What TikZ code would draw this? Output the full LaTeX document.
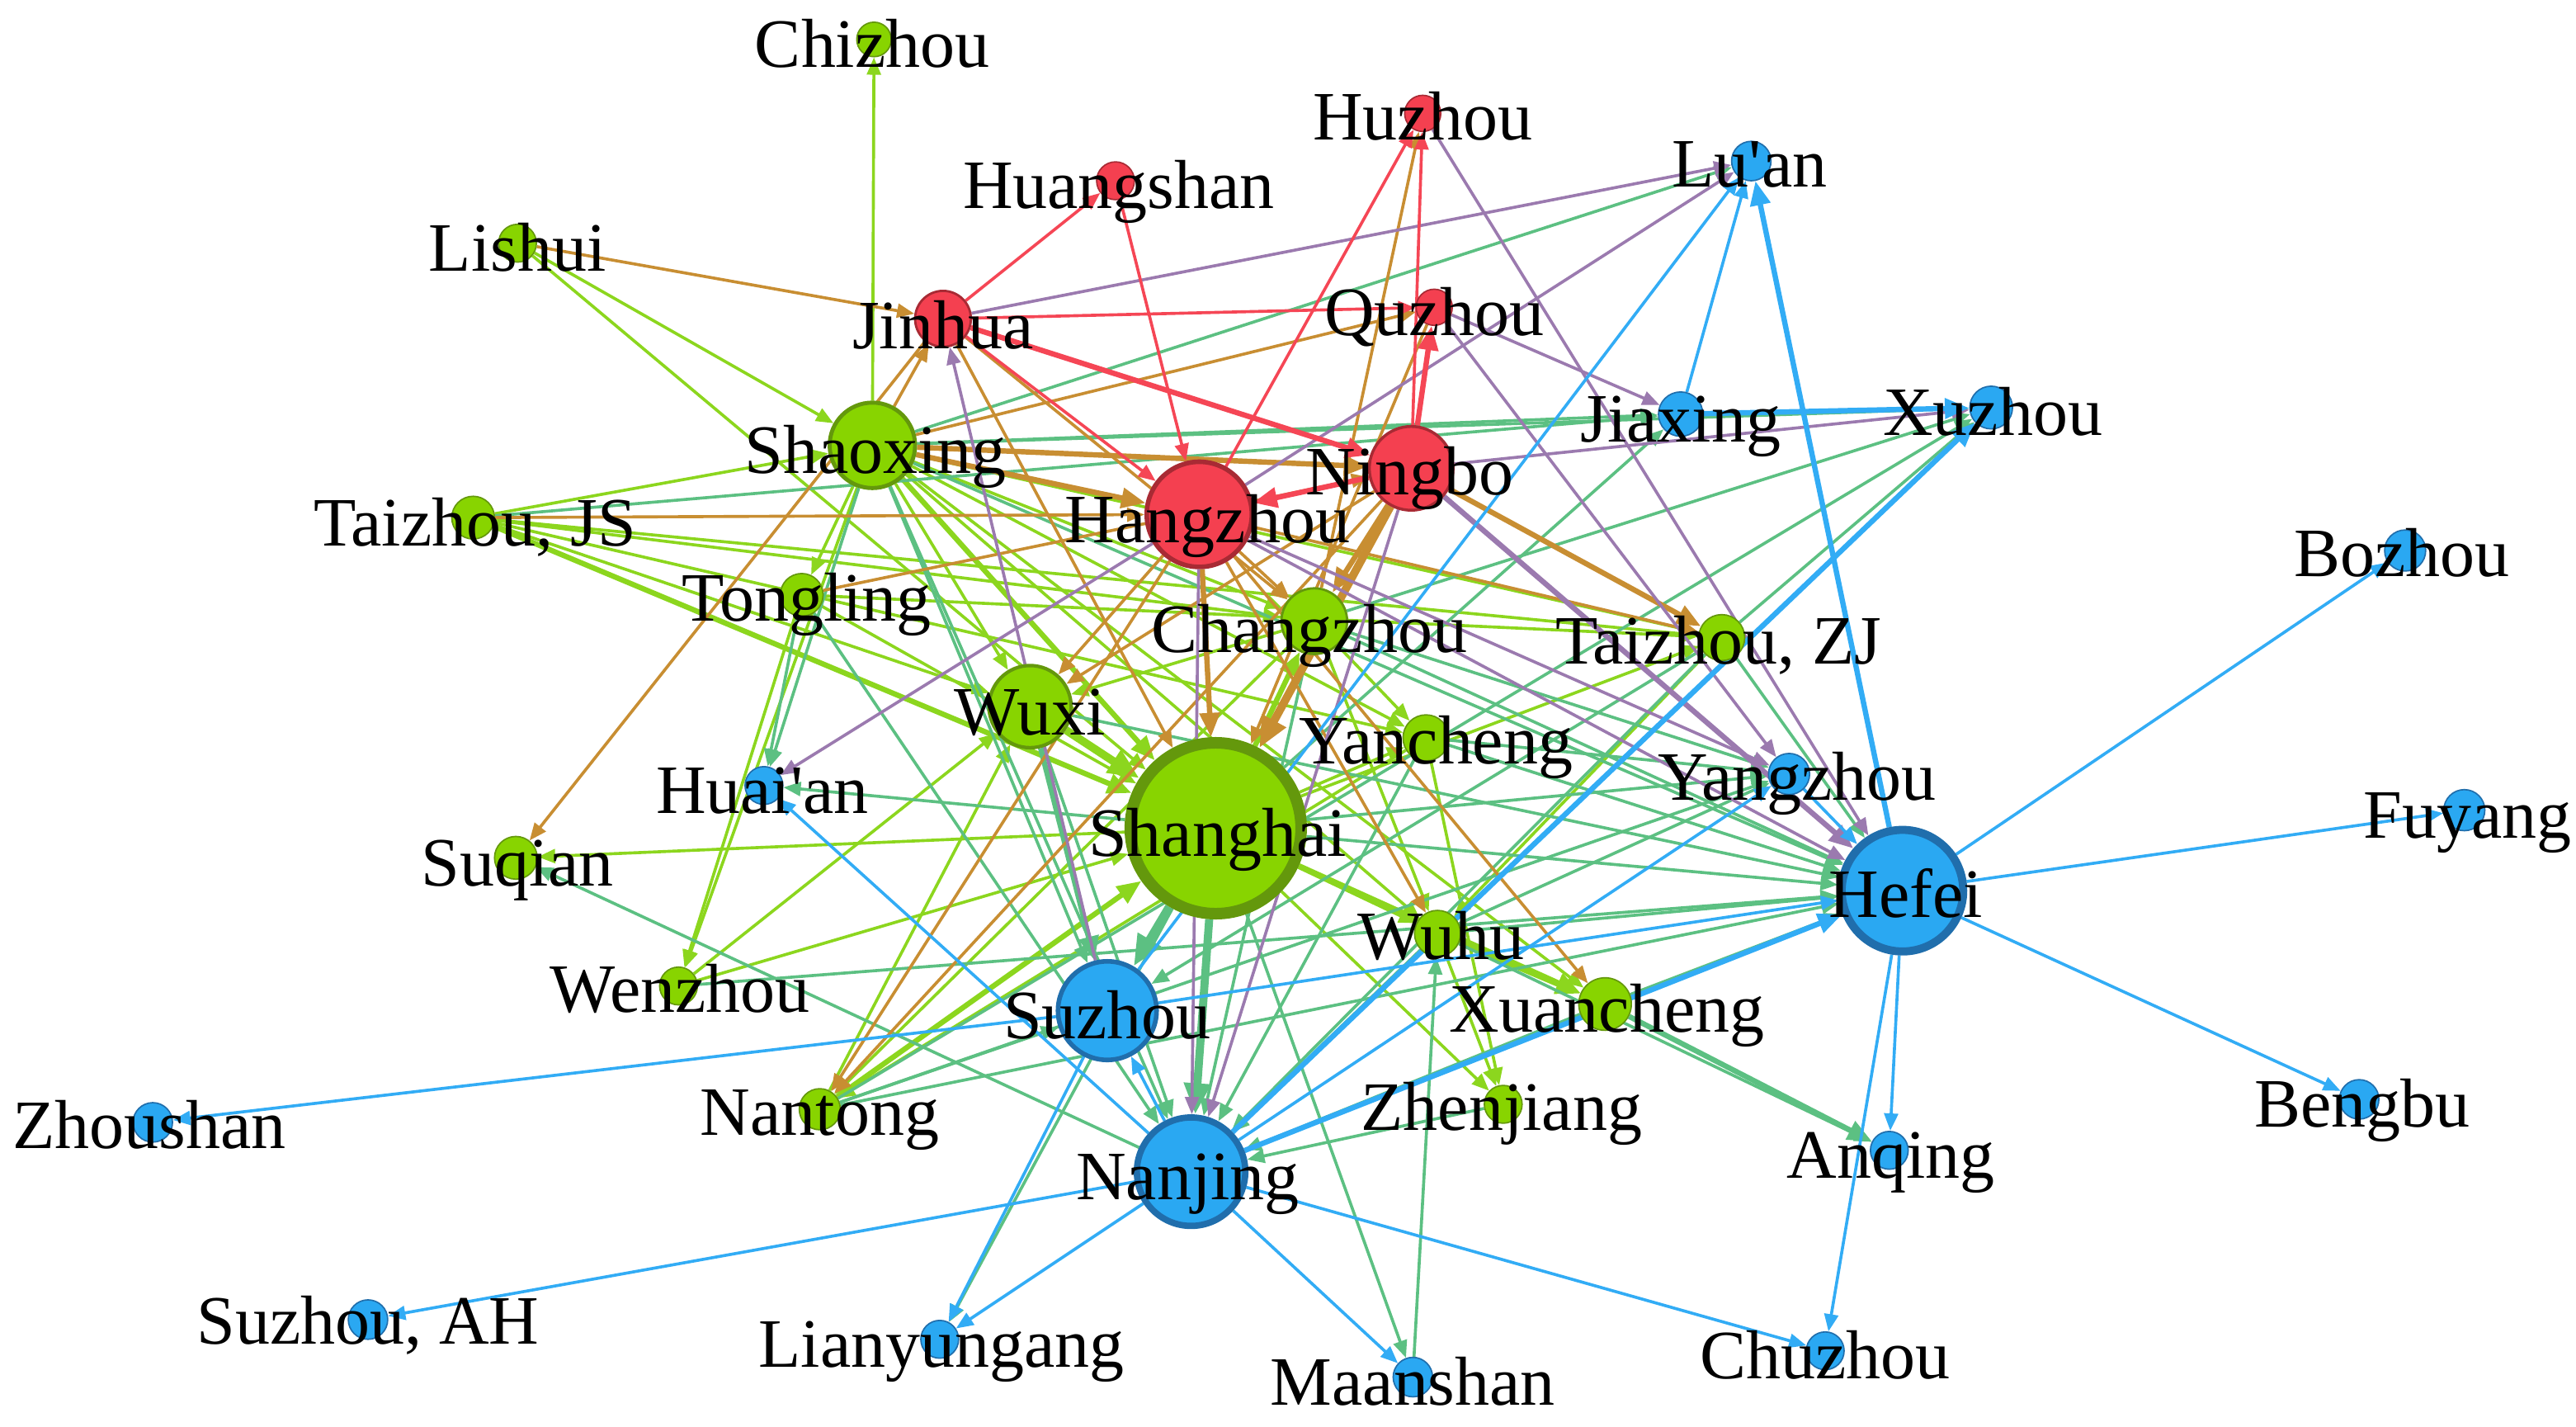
\documentclass[tikz,border=0pt]{standalone}
\usepackage{fontspec}
\setmainfont{Liberation Serif}
\usetikzlibrary{arrows.meta}
\pgfdeclarelayer{edgelayer}
\pgfsetlayers{edgelayer,main}
\definecolor{gfill}{RGB}{136,212,0}
\definecolor{gline}{RGB}{100,152,12}
\definecolor{rfill}{RGB}{244,64,80}
\definecolor{rline}{RGB}{168,42,52}
\definecolor{bfill}{RGB}{42,168,242}
\definecolor{bline}{RGB}{32,110,172}
\definecolor{elime}{RGB}{140,214,30}
\definecolor{eteal}{RGB}{92,192,130}
\definecolor{eorange}{RGB}{200,142,50}
\definecolor{epurple}{RGB}{155,122,175}
\definecolor{ered}{RGB}{245,70,85}
\definecolor{eblue}{RGB}{50,172,245}
\tikzset{
  nd/.style={circle, inner sep=0pt, line width=1.2pt},
  gn/.style={nd, fill=gfill, draw=gline},
  rn/.style={nd, fill=rfill, draw=rline},
  bn/.style={nd, fill=bfill, draw=bline},
  lab/.style={anchor=base, inner sep=0pt, text=black, font=\fontsize{60}{62}\selectfont},
  ed/.style={line width=2.6pt, -{Triangle[length=15pt,width=12pt]}},
  wa/.style={line width=4.6pt, -{Triangle[length=21pt,width=17pt]}},
  wb/.style={line width=7pt, -{Triangle[length=27pt,width=22pt]}}
}
\begin{document}
\begin{tikzpicture}[x=0.05cm,y=-0.05cm]
\useasboundingbox (0,0) rectangle (1568,868);
% ---------- nodes ----------
\node[gn, minimum size=1.05cm] (Chizhou) at (532,24) {};
\node[rn, minimum size=1.15cm] (Huangshan) at (679,110) {};
\node[rn, minimum size=1.1cm] (Huzhou) at (866,69) {};
\node[bn, minimum size=1.2cm] (Luan) at (1066,98) {};
\node[gn, minimum size=1.15cm] (Lishui) at (315,148) {};
\node[rn, minimum size=1.7cm, line width=2pt] (Jinhua) at (574,194) {};
\node[rn, minimum size=1.1cm] (Quzhou) at (873,187) {};
\node[bn, minimum size=1.35cm] (Jiaxing) at (1023,252) {};
\node[bn, minimum size=1.3cm] (Xuzhou) at (1212,248) {};
\node[gn, minimum size=2.6cm, line width=3.5pt] (Shaoxing) at (531,271) {};
\node[rn, minimum size=2.55cm, line width=2.5pt] (Ningbo) at (859,285) {};
\node[rn, minimum size=3.2cm, line width=4pt] (Hangzhou) at (730,313) {};
\node[gn, minimum size=1.3cm] (TaizhouJS) at (288,315) {};
\node[bn, minimum size=1.25cm] (Bozhou) at (1464,335) {};
\node[gn, minimum size=1.3cm] (Tongling) at (488,362) {};
\node[gn, minimum size=2.0cm, line width=2pt] (Changzhou) at (800,378) {};
\node[gn, minimum size=1.4cm] (TaizhouZJ) at (1048,388) {};
\node[gn, minimum size=2.5cm, line width=3pt] (Wuxi) at (627,430) {};
\node[gn, minimum size=1.4cm] (Yancheng) at (868,449) {};
\node[bn, minimum size=1.15cm] (Huaian) at (465,478) {};
\node[bn, minimum size=1.25cm] (Yangzhou) at (1089,471) {};
\node[gn, minimum size=5.2cm, line width=10pt] (Shanghai) at (740,504) {};
\node[bn, minimum size=1.25cm] (Fuyang) at (1500,493) {};
\node[gn, minimum size=1.3cm] (Suqian) at (314,522) {};
\node[bn, minimum size=3.7cm, line width=7pt] (Hefei) at (1158,542) {};
\node[gn, minimum size=1.4cm] (Wuhu) at (875,568) {};
\node[gn, minimum size=1.15cm] (Wenzhou) at (413,600) {};
\node[bn, minimum size=3.0cm, line width=4pt] (Suzhou) at (674,615) {};
\node[gn, minimum size=1.6cm] (Xuancheng) at (977,611) {};
\node[bn, minimum size=1.2cm] (Zhoushan) at (93,683) {};
\node[gn, minimum size=1.25cm] (Nantong) at (499,675) {};
\node[gn, minimum size=1.15cm] (Zhenjiang) at (915,672) {};
\node[bn, minimum size=1.2cm] (Bengbu) at (1436,669) {};
\node[bn, minimum size=1.15cm] (Anqing) at (1150,700) {};
\node[bn, minimum size=3.3cm, line width=5.5pt] (Nanjing) at (725,713) {};
\node[bn, minimum size=1.2cm] (SuzhouAH) at (224,803) {};
\node[bn, minimum size=1.15cm] (Lianyungang) at (572,815) {};
\node[bn, minimum size=1.2cm] (Maanshan) at (860,838) {};
\node[bn, minimum size=1.15cm] (Chuzhou) at (1111,822) {};
% ---------- edges ----------
\begin{pgfonlayer}{edgelayer}
% green - green
\foreach \a/\b in {Shaoxing/Chizhou, Lishui/Shaoxing, Lishui/Shanghai, TaizhouJS/Shaoxing,
  TaizhouJS/TaizhouZJ, TaizhouJS/Changzhou, TaizhouJS/Yancheng, TaizhouJS/Wuxi,
  Shaoxing/Tongling, Shaoxing/Wuxi, Shaoxing/Changzhou, Shaoxing/Yancheng, Shaoxing/Wuhu,
  Shaoxing/Xuancheng, Shaoxing/Wenzhou, Shaoxing/TaizhouZJ, Tongling/Shanghai,
  Tongling/Wenzhou, Tongling/TaizhouZJ, Changzhou/Wuxi, Nantong/Wuxi, Wenzhou/Wuxi,
  Shanghai/Suqian, Wenzhou/Shanghai, Shanghai/Yancheng, Shanghai/Wuhu, Shanghai/Zhenjiang,
  Shanghai/TaizhouZJ, Changzhou/Yancheng, Changzhou/Nantong, Changzhou/Wuhu,
  Yancheng/Zhenjiang, Wuhu/Zhenjiang, TaizhouZJ/Wuhu, Yancheng/Nantong}
  \draw[ed, elime] (\a) -- (\b);
\foreach \a/\b in {TaizhouJS/Shanghai, Shaoxing/Shanghai, Shanghai/Changzhou,
  Wuhu/Xuancheng, Shanghai/Xuancheng, Nantong/Shanghai}
  \draw[wa, elime] (\a) -- (\b);
\draw[wb, elime] (Wuxi) -- (Shanghai);
% green - blue
\foreach \a/\b in {Shaoxing/Jiaxing, Shaoxing/Xuzhou, Shaoxing/Huaian, Shaoxing/Suzhou,
  Shaoxing/Nanjing, Shaoxing/Luan, Shaoxing/Hefei, Tongling/Huaian, Tongling/Nanjing,
  TaizhouJS/Jiaxing, Wuxi/Nanjing, Wuxi/Hefei, Shanghai/Huaian, Shanghai/Hefei,
  Shanghai/Yangzhou, Shanghai/Lianyungang, Shanghai/Maanshan, Shanghai/Jiaxing,
  Changzhou/Hefei, Changzhou/Yangzhou, Changzhou/Xuzhou, Changzhou/Nanjing,
  TaizhouZJ/Hefei, TaizhouZJ/Xuzhou, TaizhouZJ/Nanjing, TaizhouZJ/Suzhou,
  Yancheng/Hefei, Yancheng/Nanjing, Maanshan/Wuhu, Nanjing/Suqian, Wenzhou/Hefei,
  Nantong/Suzhou, Nantong/Hefei, Nantong/Yangzhou, Nantong/Xuzhou, Wuhu/Hefei,
  Wuhu/Nanjing, Wuhu/Yangzhou, Wuhu/Anqing, Xuancheng/Hefei, Xuancheng/Nanjing,
  Zhenjiang/Nanjing, Yancheng/Yangzhou}
  \draw[ed, eteal] (\a) -- (\b);
\foreach \a/\b in {Xuancheng/Anqing, Wuxi/Suzhou}
  \draw[wa, eteal] (\a) -- (\b);
\foreach \a/\b in {Shanghai/Suzhou, Shanghai/Nanjing}
  \draw[wb, eteal] (\a) -- (\b);
% red - green
\foreach \a/\b in {Lishui/Jinhua, Shaoxing/Jinhua, Shaoxing/Quzhou, TaizhouJS/Hangzhou,
  Tongling/Ningbo, Jinhua/Suqian, Jinhua/Shanghai, Jinhua/Changzhou, Hangzhou/Wuxi,
  Ningbo/Wuxi, Changzhou/Huzhou, Hangzhou/TaizhouZJ, Hangzhou/Nantong, Ningbo/Nantong,
  Hangzhou/Wuhu, Hangzhou/Xuancheng, Quzhou/Shanghai, Hangzhou/Changzhou}
  \draw[ed, eorange] (\a) -- (\b);
\foreach \a/\b in {Shaoxing/Hangzhou, Shaoxing/Ningbo, Hangzhou/Shanghai,
  Ningbo/Changzhou, Ningbo/TaizhouZJ}
  \draw[wa, eorange] (\a) -- (\b);
\draw[wb, eorange] (Ningbo) -- (Shanghai);
% red - blue
\foreach \a/\b in {Jinhua/Luan, Huzhou/Hefei, Hangzhou/Luan, Quzhou/Jiaxing, Ningbo/Xuzhou,
  Hangzhou/Hefei, Hangzhou/Yangzhou, Suzhou/Jinhua, Hangzhou/Huaian, Hangzhou/Nanjing,
  Ningbo/Nanjing, Quzhou/Yangzhou}
  \draw[ed, epurple] (\a) -- (\b);
\draw[wa, epurple] (Ningbo) -- (Hefei);
% red - red
\foreach \a/\b in {Jinhua/Huangshan, Huangshan/Hangzhou, Jinhua/Hangzhou, Jinhua/Quzhou,
  Hangzhou/Huzhou, Ningbo/Huzhou}
  \draw[ed, ered] (\a) -- (\b);
\foreach \a/\b in {Jinhua/Ningbo, Ningbo/Quzhou, Ningbo/Hangzhou}
  \draw[wa, ered] (\a) -- (\b);
% blue - blue
\foreach \a/\b in {Jiaxing/Luan, Suzhou/Luan, Hefei/Bozhou, Hefei/Fuyang, Hefei/Bengbu,
  Hefei/Chuzhou, Suzhou/Hefei, Yangzhou/Hefei, Suzhou/Zhoushan, Nanjing/SuzhouAH,
  Nanjing/Lianyungang, Suzhou/Lianyungang, Nanjing/Maanshan, Nanjing/Chuzhou,
  Nanjing/Suzhou, Nanjing/Huaian, Nanjing/Yangzhou, Hefei/Anqing}
  \draw[ed, eblue] (\a) -- (\b);
\foreach \a/\b in {Hefei/Luan, Jiaxing/Xuzhou, Nanjing/Xuzhou, Nanjing/Hefei}
  \draw[wa, eblue] (\a) -- (\b);
\end{pgfonlayer}
% ---------- labels ----------
\node[lab] (tChizhou) at (531,41) {Chizhou};
\node[lab] (tHuangshan) at (681,127) {Huangshan};
\node[lab] (tHuzhou) at (866,85) {Huzhou};
\node[lab] (tLuan) at (1065,114) {Lu\textquotesingle an};
\node[lab] (tLishui) at (315,165) {Lishui};
\node[lab] (tJinhua) at (574,212) {Jinhua};
\node[lab] (tQuzhou) at (873,204) {Quzhou};
\node[lab] (tJiaxing) at (1023,269) {Jiaxing};
\node[lab] (tXuzhou) at (1213,265) {Xuzhou};
\node[lab] (tShaoxing) at (533,288) {Shaoxing};
\node[lab] (tNingbo) at (858,301) {Ningbo};
\node[lab] (tHangzhou) at (735,330) {Hangzhou};
\node[lab] (tTaizhouJS) at (289,332) {Taizhou, JS};
\node[lab] (tBozhou) at (1462,351) {Bozhou};
\node[lab] (tTongling) at (491,378) {Tongling};
\node[lab] (tChangzhou) at (797,397) {Changzhou};
\node[lab] (tTaizhouZJ) at (1046,404) {Taizhou, ZJ};
\node[lab] (tWuxi) at (627,447) {Wuxi};
\node[lab] (tYancheng) at (874,465) {Yancheng};
\node[lab] (tHuaian) at (464,495) {Huai\textquotesingle an};
\node[lab] (tYangzhou) at (1094,487) {Yangzhou};
\node[lab] (tShanghai) at (741,521) {Shanghai};
\node[lab] (tFuyang) at (1502,510) {Fuyang};
\node[lab] (tSuqian) at (315,539) {Suqian};
\node[lab] (tHefei) at (1160,558) {Hefei};
\node[lab] (tWuhu) at (877,584) {Wuhu};
\node[lab] (tWenzhou) at (414,616) {Wenzhou};
\node[lab] (tSuzhou) at (674,632) {Suzhou};
\node[lab] (tXuancheng) at (978,628) {Xuancheng};
\node[lab] (tZhoushan) at (91,699) {Zhoushan};
\node[lab] (tNantong) at (499,691) {Nantong};
\node[lab] (tZhenjiang) at (914,688) {Zhenjiang};
\node[lab] (tBengbu) at (1438,686) {Bengbu};
\node[lab] (tAnqing) at (1151,717) {Anqing};
\node[lab] (tNanjing) at (723,730) {Nanjing};
\node[lab] (tSuzhouAH) at (224,818) {Suzhou, AH};
\node[lab] (tLianyungang) at (573,832) {Lianyungang};
\node[lab] (tMaanshan) at (860,855) {Maanshan};
\node[lab] (tChuzhou) at (1111,839) {Chuzhou};
\end{tikzpicture}
\end{document}
